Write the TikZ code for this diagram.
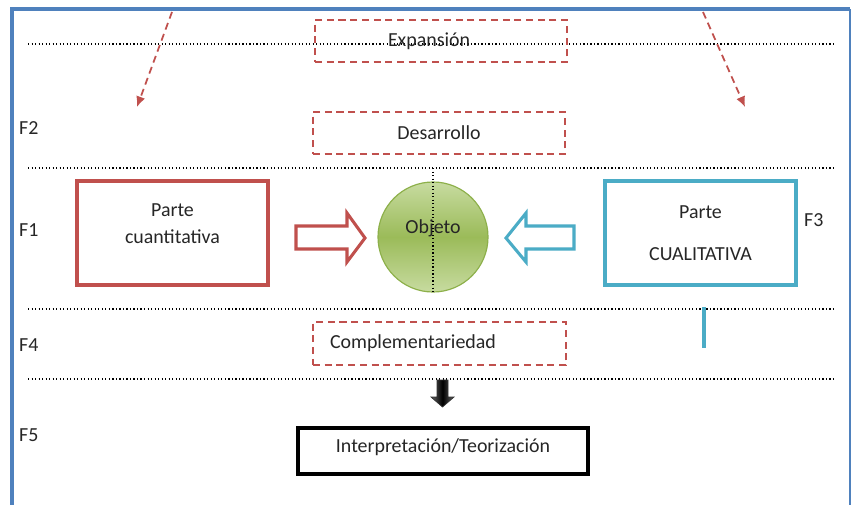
\documentclass[tikz,border=0pt]{standalone}
\usepackage{fontspec}
\setmainfont{Carlito}
\usetikzlibrary{arrows.meta}
\definecolor{redac}{HTML}{C0504D}
\definecolor{blueac}{HTML}{4BACC6}
\definecolor{frameblue}{HTML}{4F81BD}
\definecolor{greenac}{HTML}{9BBB59}
\definecolor{greenlt}{HTML}{C7DBA0}
\definecolor{greenedge}{HTML}{8DB04A}
\definecolor{txt}{HTML}{262626}
\tikzset{>={Latex[length=9pt,width=8pt]}}
\tikzset{
  every node/.style={font=\fontsize{17}{23}\selectfont,text=txt},
  phasebox/.style={draw=redac,dash pattern=on 6pt off 4pt,line width=1.3pt,inner sep=0pt,minimum width=7.56cm,minimum height=1.26cm},
  partbox/.style={line width=3.4pt,inner sep=0pt,align=center,minimum width=5.73cm,minimum height=3.12cm},
  flabel/.style={anchor=west,inner sep=0pt},
  sepline/.style={dotted,line width=1pt,black},
  growarrow/.style={->,redac,dash pattern=on 6pt off 4pt,line width=1.5pt},
}
\begin{document}
\begin{tikzpicture}[x=0.03cm,y=-0.03cm]
\useasboundingbox (0,0) rectangle (852,504);
\fill[white] (0,0) rectangle (852,504);
% marco
\draw[frameblue,line width=3.4pt] (12,506)--(12,9)--(850,9);
\draw[frameblue,line width=1.2pt] (850,9)--(850,506);
% separadores de fases
\foreach \y in {44,168,309,379}
  \draw[sepline] (28,\y)--(833,\y);
% fases
\node[phasebox,text width=3.18cm,align=left] (exp) at (441,41) {Expansión};
\node[phasebox] (des) at (439,133) {Desarrollo};
\node[phasebox,minimum width=7.59cm,minimum height=1.29cm,text width=6.57cm,align=left] (comp) at (439.5,343.5) {Complementariedad};
\node[draw=black,line width=3.4pt,inner sep=0pt,minimum width=8.7cm,minimum height=1.38cm,text depth=0.3cm] (interp) at (443,451) {Interpretación/Teorización};
\node[circle,draw=greenedge,line width=1pt,top color=greenlt,bottom color=greenlt,middle color=greenac,minimum size=3.3cm,inner sep=0pt,text depth=0.6cm] (obj) at (433,237) {Objeto};
\draw[sepline] (433,168)--(433,293);
\node[partbox,draw=redac,text depth=0.55cm] (cuant) at (172.5,233) {Parte\\cuantitativa};
\node[partbox,draw=blueac] (cual) at (700.5,233) {Parte\\[13pt]CUALITATIVA};
\node[flabel] (f2) at (19,128) {F2};
\node[flabel] (f1) at (19,230) {F1};
\node[flabel] (f3) at (804,220) {F3};
\node[flabel] (f4) at (19,345) {F4};
\node[flabel] (f5) at (19,435) {F5};
% flechas de bloque
\draw[redac,line width=2.6pt,line join=miter] (296,226)--(347,226)--(347,213)--(365,238)--(347,262)--(347,249)--(296,249)--cycle;
\draw[blueac,line width=2.6pt,line join=miter] (574,226)--(526,226)--(526,213)--(506,238)--(526,262)--(526,249)--(574,249)--cycle;
\shade[left color=black!60,right color=black!60,middle color=black,draw=black!80,line width=0.6pt] (437,380)--(448,380)--(448,397)--(454,397)--(442.5,407)--(431,397)--(437,397)--cycle;
% flechas discontinuas
\coordinate (la) at (172,12);
\coordinate (lb) at (137,107);
\coordinate (ra) at (703,12);
\coordinate (rb) at (745,107);
\draw[growarrow] (la) -- (lb);
\draw[growarrow] (ra) -- (rb);
% trazo azul
\coordinate (ba) at (704,307);
\coordinate (bb) at (704,348);
\draw[blueac,line width=2.6pt] (ba)--(bb);
\end{tikzpicture}
\end{document}
